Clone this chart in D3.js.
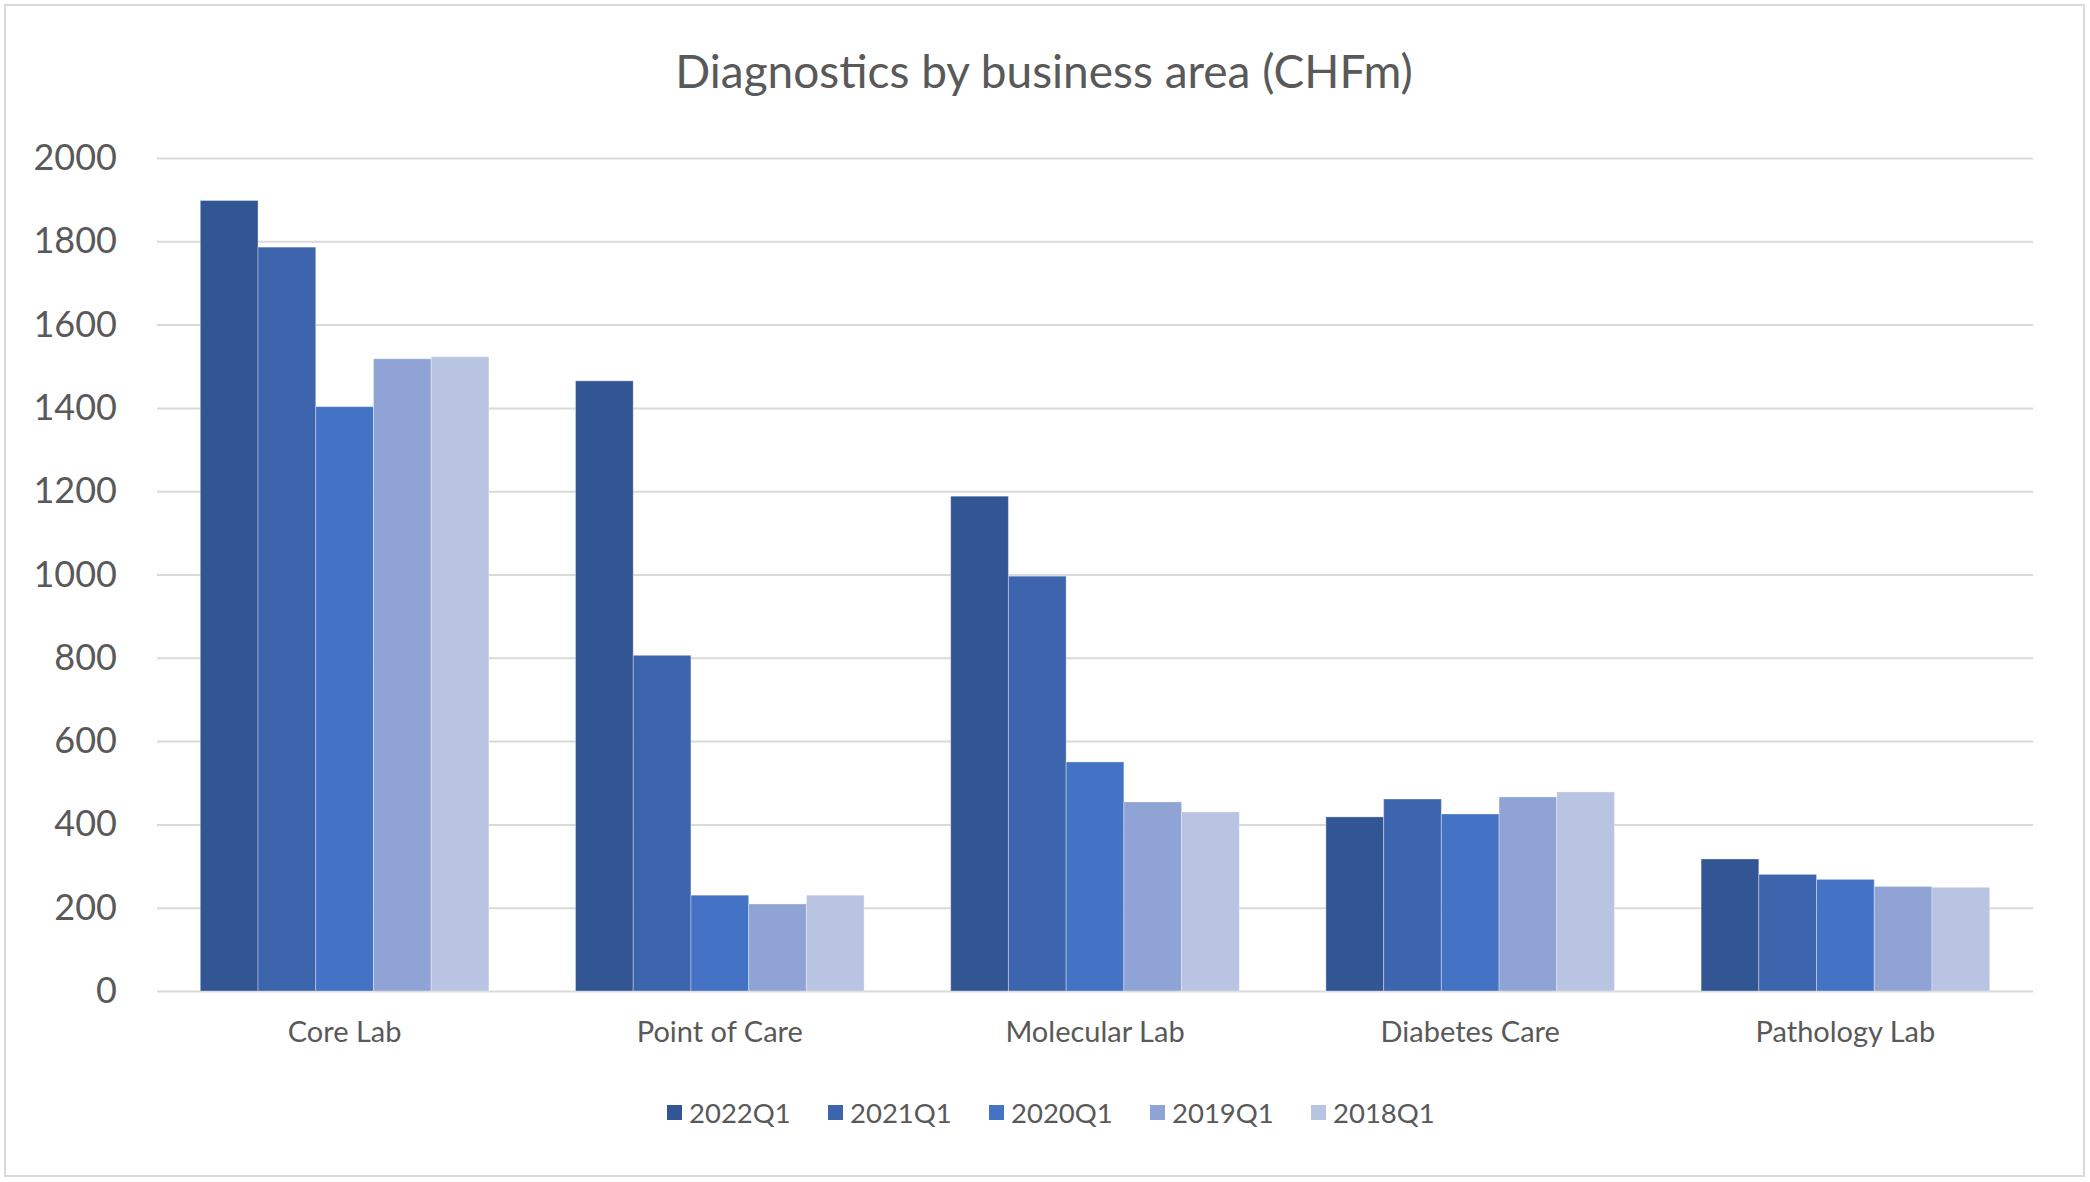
<!DOCTYPE html>
<html>
<head>
<meta charset="utf-8">
<script src="https://cdn.jsdelivr.net/npm/d3@7"></script>
<style>
  body { margin: 0; background: #fff; }
  text { font-family: Lato, "Open Sans", sans-serif; fill: #595959; }
</style>
</head>
<body>
<div id="chart"></div>
<script>
const categories = ['Core Lab', 'Point of Care', 'Molecular Lab', 'Diabetes Care', 'Pathology Lab'];
const seriesNames = ['2022Q1', '2021Q1', '2020Q1', '2019Q1', '2018Q1'];
const v2022Q1 = [1898, 1465, 1188, 418, 317];
const v2021Q1 = [1786, 806, 996, 461, 280];
const v2020Q1 = [1403, 230, 550, 425, 268];
const v2019Q1 = [1518, 209, 454, 466, 251];
const v2018Q1 = [1523, 230, 430, 478, 249];
const yTicks = [0, 200, 400, 600, 800, 1000, 1200, 1400, 1600, 1800, 2000];
const colors = ['#325593', '#3c65ad', '#4472c4', '#8fa4d4', '#b9c3e2'];

const seriesValues = [v2022Q1, v2021Q1, v2020Q1, v2019Q1, v2018Q1];
const data = categories.map((c, i) => ({ category: c, values: seriesNames.map((s, j) => ({ series: s, value: seriesValues[j][i] })) }));

const width = 2090, height = 1182;
const margin = { top: 158, right: 57, bottom: 191, left: 157 };

const svg = d3.select('#chart').append('svg').attr('width', width).attr('height', height);

svg.append('rect')
  .attr('x', 5).attr('y', 5).attr('width', 2079).attr('height', 1171)
  .attr('fill', '#fff').attr('stroke', '#d9d9d9').attr('stroke-width', 2);

const x0 = d3.scaleBand().domain(categories).range([margin.left, width - margin.right]).paddingInner(1.5 / 6.5).paddingOuter(0.75 / 6.5);
const x1 = d3.scaleBand().domain(seriesNames).range([0, x0.bandwidth()]);
const y = d3.scaleLinear().domain([0, 2000]).range([height - margin.bottom, margin.top]);

// gridlines
svg.append('g')
  .attr('transform', `translate(${margin.left},0)`)
  .call(d3.axisLeft(y).tickValues(yTicks).tickSize(-(width - margin.left - margin.right)).tickFormat(''))
  .call(g => g.select('.domain').remove())
  .call(g => g.selectAll('line').attr('stroke', '#d9d9d9').attr('stroke-width', 2));

// y labels
svg.append('g')
  .attr('transform', `translate(117,0)`)
  .call(d3.axisLeft(y).tickValues(yTicks).tickSize(0).tickPadding(0).tickFormat(d3.format('d')))
  .call(g => g.select('.domain').remove())
  .call(g => g.selectAll('text').attr('font-size', 36).attr('fill', '#595959').attr('font-family', 'Lato, sans-serif'));

// bars
const groups = svg.selectAll('.grp').data(data).enter().append('g')
  .attr('transform', d => `translate(${x0(d.category)},0)`);

groups.selectAll('rect').data(d => d.values).enter().append('rect')
  .attr('x', d => x1(d.series))
  .attr('y', d => y(d.value))
  .attr('width', x1.bandwidth())
  .attr('height', d => y(0) - y(d.value))
  .attr('fill', (d, i) => colors[i])
  .attr('stroke', 'rgba(255,255,255,0.35)')
  .attr('stroke-width', 1);

// x labels
svg.append('g')
  .attr('transform', `translate(0,${y(0)})`)
  .call(d3.axisBottom(x0).tickSize(0).tickPadding(0))
  .call(g => g.select('.domain').remove())
  .call(g => g.selectAll('text').attr('dy', null).attr('y', 51).attr('font-size', 29).attr('fill', '#595959').attr('font-family', 'Lato, sans-serif'));

// title
svg.append('text')
  .attr('x', 1044).attr('y', 88)
  .attr('text-anchor', 'middle')
  .attr('font-size', 46)
  .text('Diagnostics by business area (CHFm)');

// legend
const legend = svg.append('g').attr('transform', 'translate(667,1113)');
const items = legend.selectAll('g').data(seriesNames).enter().append('g')
  .attr('transform', (d, i) => `translate(${i * 161},0)`);
items.append('rect').attr('x', 0).attr('y', -8).attr('width', 15).attr('height', 15).attr('fill', (d, i) => colors[i]);
items.append('text').attr('x', 22).attr('y', 10).attr('font-size', 27.5).text(d => d);
</script>
</body>
</html>
